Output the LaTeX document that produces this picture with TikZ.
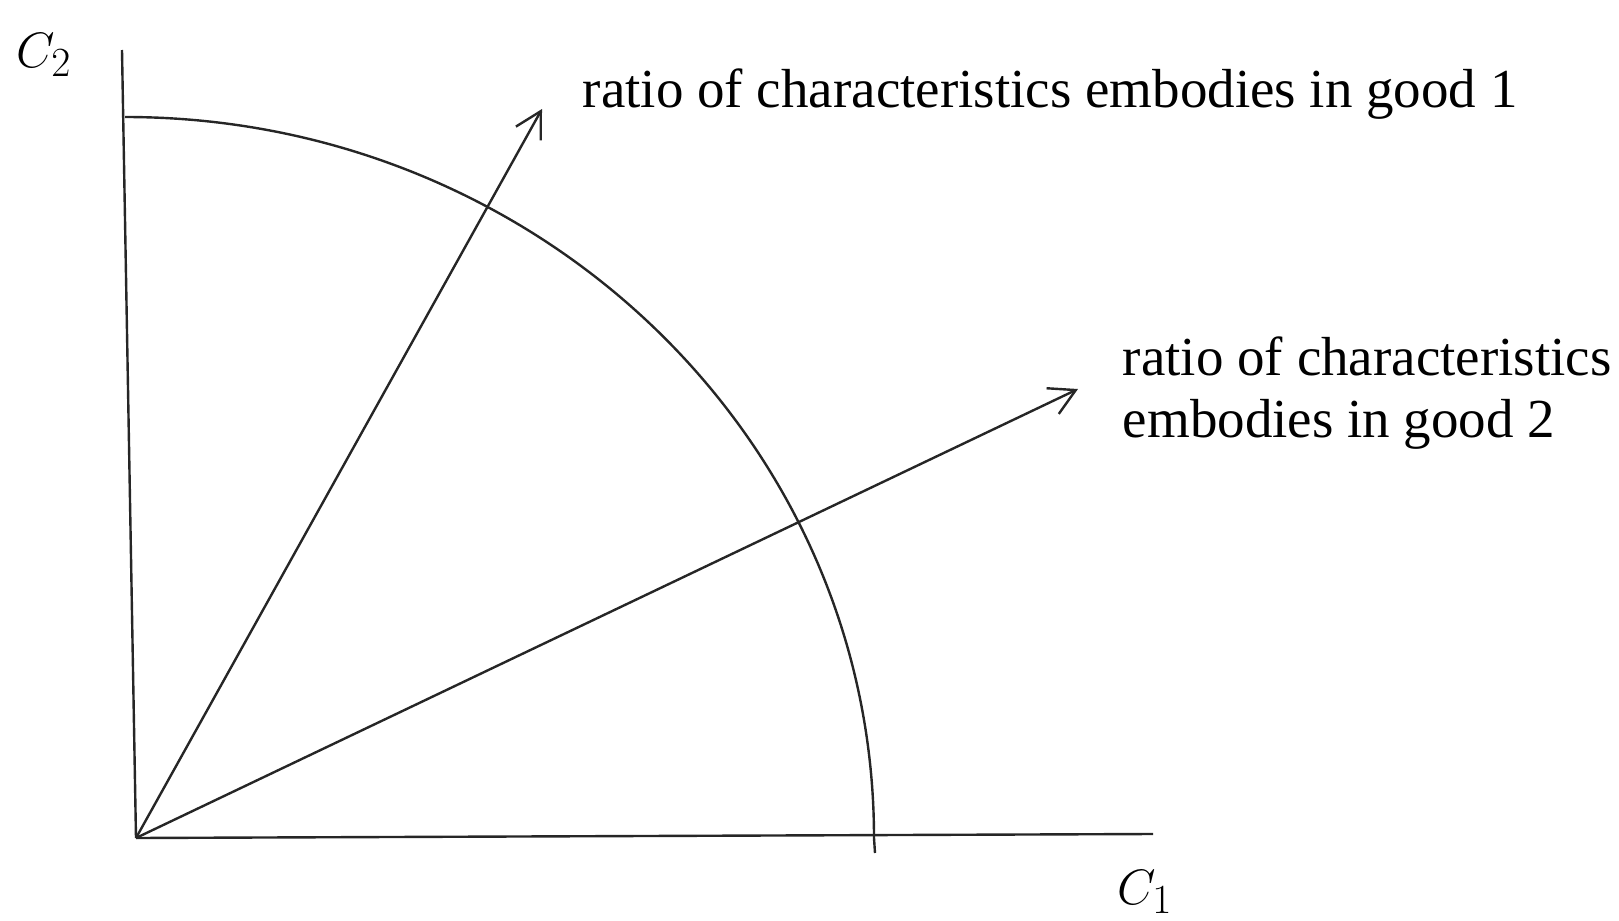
\documentclass[tikz,border=0pt]{standalone}
\usepackage{fontspec}
\setmainfont{Liberation Serif}
\usetikzlibrary{arrows.meta}

\begin{document}
\begin{tikzpicture}[x=0.5pt, y=-0.5pt, line width=1.2pt, draw=black!85,
	every node/.style={font=\fontsize{27.5}{31}\selectfont},
	ray/.style={-{Straight Barb[length=4.5mm, width=5mm, line width=1.2pt]}}]
	\useasboundingbox (0,0) rectangle (1619,921);
	% axes
	\coordinate (O) at (136,838);
	\coordinate (ytop) at (122,50);
	\coordinate (xend) at (1153,834);
	\draw (O) -- (ytop);
	\draw (O) -- (xend);
	\node[font=\fontsize{30}{30}\selectfont\itshape] (c2lab) at (44,55) {$C_2$};
	\node[font=\fontsize{30}{30}\selectfont\itshape] (c1lab) at (1145,892) {$C_1$};
	% frontier
	\draw (125,117) arc[start angle=-90, end angle=0, x radius=749, y radius=721] -- ++(1,15);
	% rays
	\coordinate (tip1) at (542,109);
	\coordinate (tip2) at (1078,389);
	\draw[ray] (O) -- (tip1);
	\draw[ray] (O) -- (tip2);
	\node[anchor=west] (good1lab) at (575,94) {ratio of characteristics embodies in good 1};
	\node[anchor=west, align=left] (good2lab) at (1115,393) {ratio of characteristics\\embodies in good 2};
\end{tikzpicture}
\end{document}
